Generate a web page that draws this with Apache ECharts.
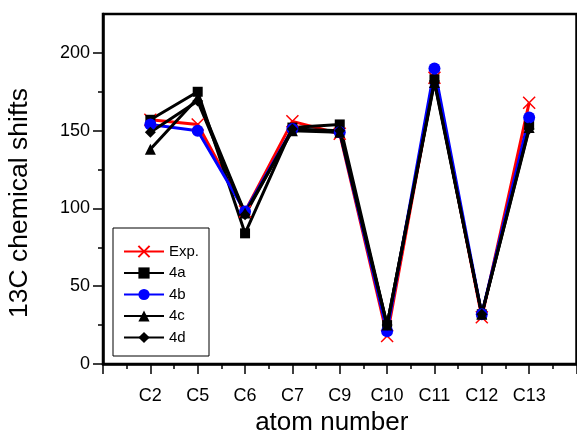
<!DOCTYPE html>
<html>
<head>
<meta charset="utf-8">
<script src="https://cdn.jsdelivr.net/npm/echarts@6/dist/echarts.min.js"></script>
<style>
html, body { margin: 0; padding: 0; background: #fff; }
#chart { width: 577px; height: 439px; }
</style>
</head>
<body>
<div id="chart"></div>
<script>
// atoms on the x axis (placed at 1..9)
const atoms = ['C2', 'C5', 'C6', 'C7', 'C9', 'C10', 'C11', 'C12', 'C13'];
const expShift = [157, 154, 98, 156, 148, 18, 184, 30, 168];
const shift4a = [157, 175, 84, 152, 154, 25, 183, 32, 154];
const shift4b = [154, 150, 98, 151, 149, 21, 190, 32, 158.5];
const shift4c = [138, 171, 97, 150, 149, 25, 181, 32, 152];
const shift4d = [149, 169, 96, 151, 150, 25, 182, 32, 151];
const yMajor = [0, 50, 100, 150, 200];
const yMinor = [25, 75, 125, 175];

const font = 'Liberation Sans';
const crossPath = 'path://M0,0L10,10M10,0L0,10';

function toPoints(vals) {
    return atoms.map((a, i) => [i + 1, vals[i]]);
}

function makeSeries(name, vals, color, symbol, size, extra) {
    return Object.assign({
        name: name,
        type: 'line',
        data: toPoints(vals),
        symbol: symbol,
        symbolSize: size,
        showSymbol: true,
        lineStyle: { color: color, width: 3 },
        itemStyle: { color: color },
        z: 2
    }, extra || {});
}

const chart = echarts.init(document.getElementById('chart'));
chart.setOption({
    animation: false,
    backgroundColor: '#fff',
    grid: {
        left: 103,
        right: 0.5,
        top: 14,
        bottom: 75,
        outerBoundsMode: 'none',
        show: true,
        borderColor: '#000',
        borderWidth: 2.5
    },
    legend: {
        orient: 'vertical',
        left: 113,
        top: 228,
        itemWidth: 40,
        itemHeight: 14,
        itemGap: 6.5,
        padding: [16, 10, 11, 10],
        borderColor: '#000',
        borderWidth: 1,
        textStyle: { fontFamily: font, fontSize: 15, color: '#000' },
        data: ['Exp.', '4a', '4b', '4c', '4d']
    },
    xAxis: {
        type: 'value',
        min: 0,
        max: 10,
        interval: 1,
        name: 'atom number',
        nameLocation: 'middle',
        nameGap: 45,
        nameTextStyle: { fontFamily: font, fontSize: 26, color: '#000', padding: [0, 16, 0, 0] },
        axisLine: { show: true, lineStyle: { color: '#000', width: 2.5 } },
        axisTick: { show: true, length: 10, lineStyle: { color: '#000', width: 1.5 } },
        minorTick: { show: true, splitNumber: 2, length: 5, lineStyle: { color: '#000', width: 1.5 } },
        axisLabel: {
            margin: 23,
            fontFamily: font,
            fontSize: 18,
            color: '#000',
            formatter: v => atoms[v - 1] || ''
        },
        splitLine: { show: false }
    },
    yAxis: [
        {
            type: 'value',
            min: 0,
            max: 225,
            interval: 25,
            name: '13C chemical shifts',
            nameLocation: 'middle',
            nameGap: 70,
            nameTextStyle: { fontFamily: font, fontSize: 26.5, color: '#000', padding: [0, 28, 0, 0] },
            axisLine: { show: true, lineStyle: { color: '#000', width: 2.5 } },
            axisTick: { show: true, length: 10, customValues: yMajor, lineStyle: { color: '#000', width: 1.5 } },
            axisLabel: { margin: 13, fontFamily: font, fontSize: 18, color: '#000', customValues: yMajor },
            splitLine: { show: false }
        },
        {
            type: 'value',
            min: 0,
            max: 225,
            interval: 25,
            position: 'left',
            axisLine: { show: false },
            axisTick: { show: true, length: 5, customValues: yMinor, lineStyle: { color: '#000', width: 1.5 } },
            axisLabel: { show: false },
            splitLine: { show: false }
        }
    ],
    series: [
        makeSeries('Exp.', expShift, '#ff0000', crossPath, 12, {
            itemStyle: { color: '#ff0000', borderColor: '#ff0000', borderWidth: 1.5 }
        }),
        makeSeries('4a', shift4a, '#000000', 'rect', 10),
        makeSeries('4b', shift4b, '#0000ff', 'circle', 12),
        makeSeries('4c', shift4c, '#000000', 'triangle', 11),
        makeSeries('4d', shift4d, '#000000', 'diamond', 11)
    ]
});
</script>
</body>
</html>
